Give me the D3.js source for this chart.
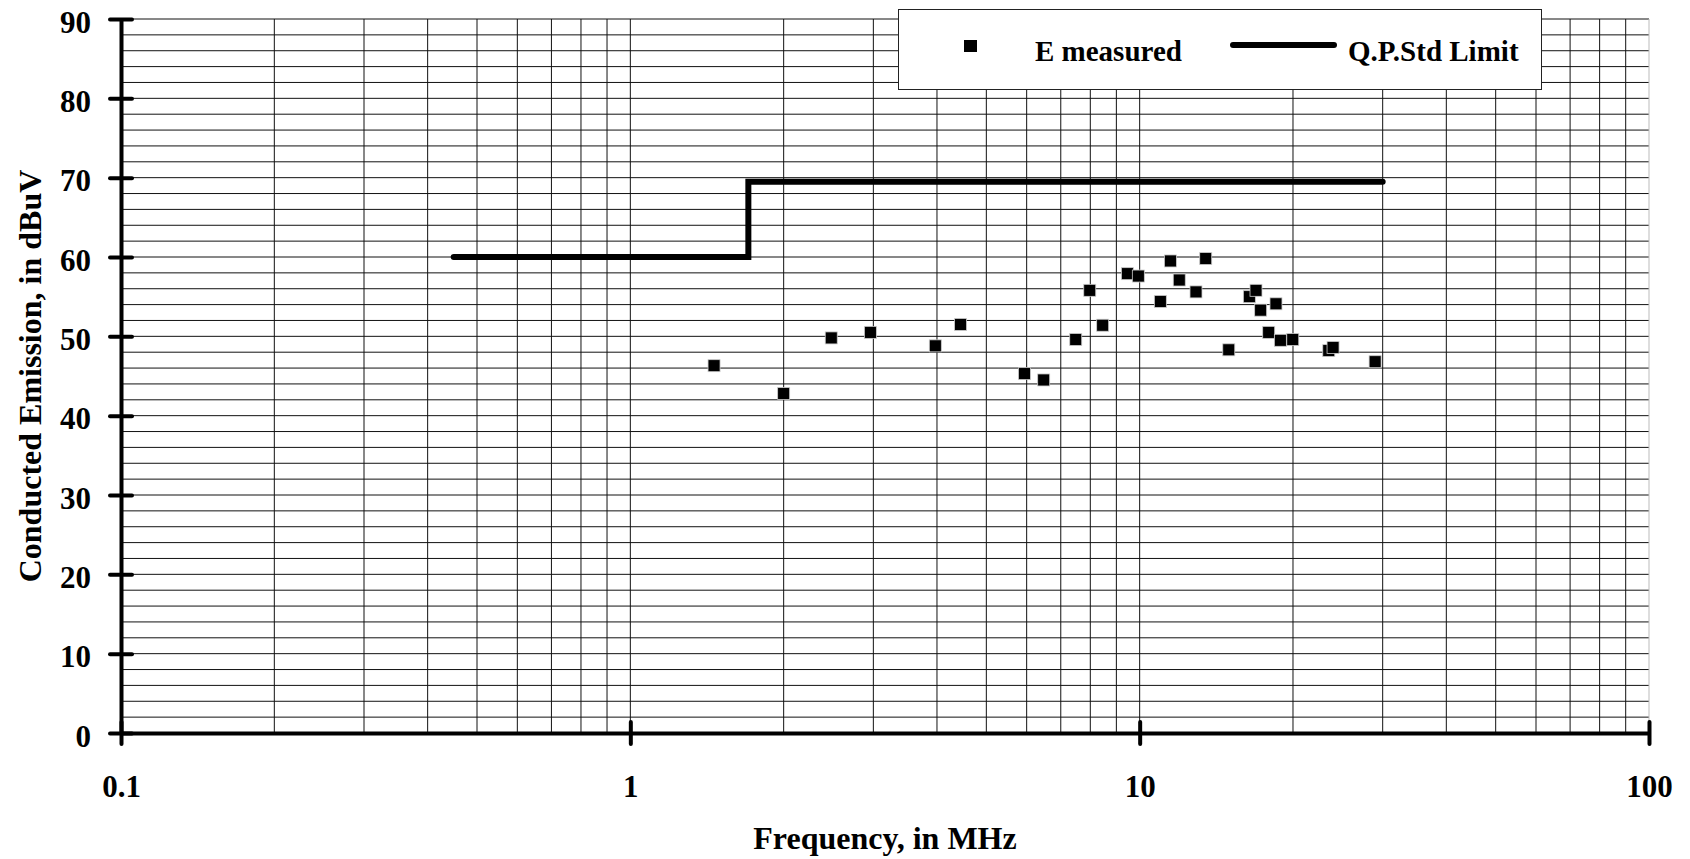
<!DOCTYPE html>
<html>
<head>
<meta charset="utf-8">
<script src="https://cdn.jsdelivr.net/npm/d3@7"></script>
<style>
    body { margin: 0; background: #fff; }
    text { font-family: "Liberation Serif", "Times New Roman", serif; font-weight: bold; fill: #000; }
</style>
</head>
<body>
<svg id="chart" width="1690" height="859"></svg>
<script>
// measured points (frequency in MHz, level in dBuV)
var freqMHz = [1.46, 2.0, 2.48, 2.96, 3.97, 4.45, 5.94, 6.48, 7.49, 7.98,
               8.46, 9.46, 9.94, 10.98, 11.49, 11.96, 12.9, 13.48, 14.96, 16.42,
               16.92, 17.28, 17.92, 18.52, 18.89, 19.98, 23.51, 23.97, 28.99];
var emission = [46.3, 42.8, 49.8, 50.5, 48.8, 51.5, 45.3, 44.5, 49.6, 55.8,
                51.4, 57.9, 57.6, 54.4, 59.5, 57.1, 55.6, 59.8, 48.3, 55.0,
                55.8, 53.3, 50.5, 54.1, 49.5, 49.6, 48.2, 48.6, 46.8];

// quasi-peak limit line
var limitFreq = [0.45, 1.705, 1.705, 30];
var limitLevel = [60, 60, 69.5, 69.5];

var yTicks = [0, 10, 20, 30, 40, 50, 60, 70, 80, 90];
var xTicks = [0.1, 1, 10, 100];
var xTickLabels = ["0.1", "1", "10", "100"];
var legendLabels = ["E measured", "Q.P.Std Limit"];

function drawChart() {
    var svg = d3.select("#chart");
    var pLeft = 121, pRight = 1649, pTop = 19, pBottom = 733;

    var x = d3.scaleLog().domain([0.1, 100]).range([pLeft, pRight]);
    var y = d3.scaleLinear().domain([0, 90]).range([pBottom, pTop]);

    // grid: horizontal every 2 dBuV, vertical at 1..9 per decade
    var grid = svg.append("g").attr("class", "grid");
    grid.selectAll("line.h")
        .data(d3.range(0, 91, 2))
        .enter().append("line")
        .attr("class", "h")
        .attr("x1", pLeft).attr("x2", pRight)
        .attr("y1", function(d) { return y(d); })
        .attr("y2", function(d) { return y(d); })
        .style("stroke", "#111")
        .style("stroke-width", 1);

    var vgrid = [];
    [0.1, 1, 10].forEach(function(dec) {
        for (var k = 2; k <= 10; k++) vgrid.push(dec * k);
    });
    grid.selectAll("line.v")
        .data(vgrid)
        .enter().append("line")
        .attr("class", "v")
        .attr("y1", pTop).attr("y2", pBottom)
        .attr("x1", function(d) { return x(d); })
        .attr("x2", function(d) { return x(d); })
        .style("stroke", function(d) { return d === 100 ? "#bbb" : "#111"; })
        .style("stroke-width", 1);

    // limit line
    var line = d3.line()
        .x(function(d) { return x(d[0]); })
        .y(function(d) { return y(d[1]); });
    svg.append("path")
        .datum(d3.zip(limitFreq, limitLevel))
        .attr("d", line)
        .style("fill", "none")
        .style("stroke", "#000")
        .style("stroke-width", 6)
        .style("stroke-linecap", "round")
        .style("stroke-linejoin", "miter");

    // measured points
    var ms = 12;
    svg.append("g")
        .selectAll("rect")
        .data(d3.zip(freqMHz, emission))
        .enter().append("rect")
        .attr("x", function(d) { return x(d[0]) - ms / 2; })
        .attr("y", function(d) { return y(d[1]) - ms / 2; })
        .attr("width", ms).attr("height", ms)
        .style("fill", "#000")
        .style("stroke", "#ccc")
        .style("stroke-width", 0.8);

    // axes
    var yAxis = svg.append("g")
        .attr("transform", "translate(" + pLeft + ",0)")
        .call(d3.axisLeft(y).tickValues(yTicks).tickSize(11).tickSizeOuter(0));
    yAxis.select(".domain").style("stroke", "#000").style("stroke-width", 4);
    yAxis.selectAll(".tick line")
        .attr("x1", 11).attr("x2", -11)
        .style("stroke", "#000").style("stroke-width", 4).style("stroke-linecap", "round");
    yAxis.selectAll(".tick text")
        .attr("x", -30).attr("dy", "0.42em")
        .style("font-size", "31px")
        .style("font-family", "Liberation Serif, serif").style("font-weight", "bold");

    var xAxis = svg.append("g")
        .attr("transform", "translate(0," + pBottom + ")")
        .call(d3.axisBottom(x).tickValues(xTicks)
            .tickFormat(function(d, i) { return xTickLabels[i]; })
            .tickSize(11).tickSizeOuter(0));
    xAxis.select(".domain").style("stroke", "#000").style("stroke-width", 4);
    xAxis.selectAll(".tick line")
        .attr("y1", -11).attr("y2", 11)
        .style("stroke", "#000").style("stroke-width", 4).style("stroke-linecap", "round");
    xAxis.selectAll(".tick text")
        .attr("y", 64).attr("dy", 0)
        .style("font-size", "31px")
        .style("font-family", "Liberation Serif, serif").style("font-weight", "bold");

    // axis titles
    svg.append("text")
        .attr("x", (pLeft + pRight) / 2)
        .attr("y", 849)
        .style("text-anchor", "middle")
        .style("font-size", "32px")
        .text("Frequency, in MHz");

    svg.append("text")
        .attr("transform", "translate(41," + (pTop + pBottom) / 2 + ") rotate(-90)")
        .style("text-anchor", "middle")
        .style("font-size", "32px")
        .text("Conducted Emission, in dBuV");

    // legend
    var legend = svg.append("g");
    legend.append("rect")
        .attr("x", 898.5).attr("y", 9.5)
        .attr("width", 643).attr("height", 80)
        .style("fill", "#fff").style("stroke", "#222").style("stroke-width", 1);
    legend.append("rect")
        .attr("x", 964).attr("y", 40)
        .attr("width", 13).attr("height", 12)
        .style("fill", "#000");
    legend.append("text")
        .attr("x", 1035).attr("y", 61)
        .style("font-size", "29px")
        .text(legendLabels[0]);
    legend.append("line")
        .attr("x1", 1233).attr("x2", 1334)
        .attr("y1", 45).attr("y2", 45)
        .style("stroke", "#000").style("stroke-width", 6).style("stroke-linecap", "round");
    legend.append("text")
        .attr("x", 1348).attr("y", 61)
        .style("font-size", "29px")
        .text(legendLabels[1]);
}

drawChart();
</script>
</body>
</html>
